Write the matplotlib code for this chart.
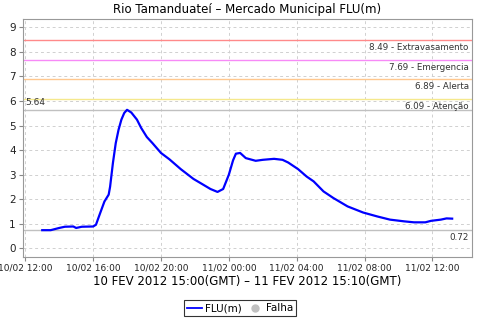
import pandas as pd
import matplotlib
matplotlib.use("Agg")
import matplotlib.pyplot as plt
import matplotlib.dates as mdates
from matplotlib.lines import Line2D

# leituras FLU(m), hora local (10/02 -> 11/02)
times = ["2012-02-10 13:00", "2012-02-10 13:30", "2012-02-10 14:00", "2012-02-10 14:20",
         "2012-02-10 14:50", "2012-02-10 15:00", "2012-02-10 15:20", "2012-02-10 16:00",
         "2012-02-10 16:10", "2012-02-10 16:25", "2012-02-10 16:40", "2012-02-10 16:55",
         "2012-02-10 17:00", "2012-02-10 17:10", "2012-02-10 17:20", "2012-02-10 17:30",
         "2012-02-10 17:40", "2012-02-10 17:50", "2012-02-10 18:00", "2012-02-10 18:15",
         "2012-02-10 18:35", "2012-02-10 18:50", "2012-02-10 19:10", "2012-02-10 19:30",
         "2012-02-10 19:45", "2012-02-10 20:00", "2012-02-10 20:30", "2012-02-10 21:10",
         "2012-02-10 21:55", "2012-02-10 22:20", "2012-02-10 22:55", "2012-02-10 23:20",
         "2012-02-10 23:40", "2012-02-11 00:00", "2012-02-11 00:15", "2012-02-11 00:25",
         "2012-02-11 00:40", "2012-02-11 01:00", "2012-02-11 01:35", "2012-02-11 02:00",
         "2012-02-11 02:40", "2012-02-11 03:10", "2012-02-11 03:30", "2012-02-11 04:05",
         "2012-02-11 04:35", "2012-02-11 05:00", "2012-02-11 05:35", "2012-02-11 06:10",
         "2012-02-11 07:00", "2012-02-11 07:55", "2012-02-11 08:45", "2012-02-11 09:30",
         "2012-02-11 10:20", "2012-02-11 10:55", "2012-02-11 11:35", "2012-02-11 11:55",
         "2012-02-11 12:30", "2012-02-11 12:50", "2012-02-11 13:10"]
flu = [0.73, 0.73, 0.82, 0.87, 0.88, 0.82, 0.87, 0.88,
       0.95, 1.43, 1.90, 2.18, 2.50, 3.47, 4.28, 4.83,
       5.24, 5.51, 5.64, 5.53, 5.24, 4.90, 4.53, 4.28,
       4.08, 3.88, 3.62, 3.22, 2.82, 2.65, 2.41, 2.29,
       2.41, 2.99, 3.58, 3.85, 3.88, 3.67, 3.56, 3.60,
       3.64, 3.60, 3.49, 3.22, 2.92, 2.72, 2.31, 2.04,
       1.70, 1.45, 1.29, 1.16, 1.09, 1.05, 1.05, 1.11,
       1.16, 1.21, 1.20]

# cotas de referencia
limites = [8.49, 7.69, 6.89, 6.09]
nomes = ["Extravasamento", "Emergencia", "Alerta", "Atenção"]
cores = ["#ff8a8a", "#f78af7", "#ffc78e", "#f5e88c"]
vmax = 5.64
vmin = 0.72

t = pd.to_datetime(times)

fig = plt.figure(figsize=(4.8, 3.2), dpi=100)
ax = fig.add_axes([0.047, 0.198, 0.936, 0.743])

ax.plot(t, flu, color="#0000ff", lw=1.6, zorder=5)
ax.margins(x=0.048)
ax.set_ylim(-0.35, 9.35)
ax.set_yticks(range(0, 10))

for v, n, c in zip(limites, nomes, cores):
    ax.axhline(v, color=c, lw=1.0, zorder=2)
    ax.text(0.993, v - 0.12, f"{v:.2f} - {n}", transform=ax.get_yaxis_transform(),
            ha="right", va="top", fontsize=6.3, color="#333333")

ax.axhline(vmax, color="#c0c0c0", lw=1.0, zorder=2)
ax.text(0.006, vmax + 0.1, f"{vmax:.2f}", transform=ax.get_yaxis_transform(),
        ha="left", va="bottom", fontsize=6.5, color="#333333")
ax.axhline(vmin, color="#c0c0c0", lw=1.0, zorder=2)
ax.text(0.993, vmin - 0.12, f"{vmin:.2f}", transform=ax.get_yaxis_transform(),
        ha="right", va="top", fontsize=6.3, color="#333333")

ax.xaxis.set_major_locator(mdates.HourLocator(byhour=[0, 4, 8, 12, 16, 20]))
ax.xaxis.set_major_formatter(mdates.DateFormatter("%d/%m %H:%M"))

ax.grid(True, color="#d0d0d0", ls=(0, (3, 3)), lw=0.7)
for s in ax.spines.values():
    s.set_color("#999999")
ax.tick_params(axis="both", colors="#888888", labelcolor="#222222", length=3, width=0.8)
ax.tick_params(axis="x", labelsize=6.5, pad=2)
ax.tick_params(axis="y", labelsize=7.5, pad=2)

ax.set_title("Rio Tamanduateí – Mercado Municipal FLU(m)", fontsize=8.5, pad=4)
ax.set_xlabel("10 FEV 2012 15:00(GMT) – 11 FEV 2012 15:10(GMT)", fontsize=8.5, labelpad=2)

handles = [Line2D([], [], color="#0000ff", lw=1.3),
           Line2D([], [], color="#c0c0c0", marker="o", ls="none", ms=5)]
leg = fig.legend(handles, ["FLU(m)", "Falha"], loc="lower center", bbox_to_anchor=(0.5, 0.005),
                 ncol=2, fontsize=7.5, frameon=True, fancybox=False, edgecolor="black",
                 handlelength=1.5, handletextpad=0.3, columnspacing=0.5,
                 borderpad=0.3, borderaxespad=0.2)
leg.get_frame().set_linewidth(0.8)

fig.savefig("out.png", dpi=100)
